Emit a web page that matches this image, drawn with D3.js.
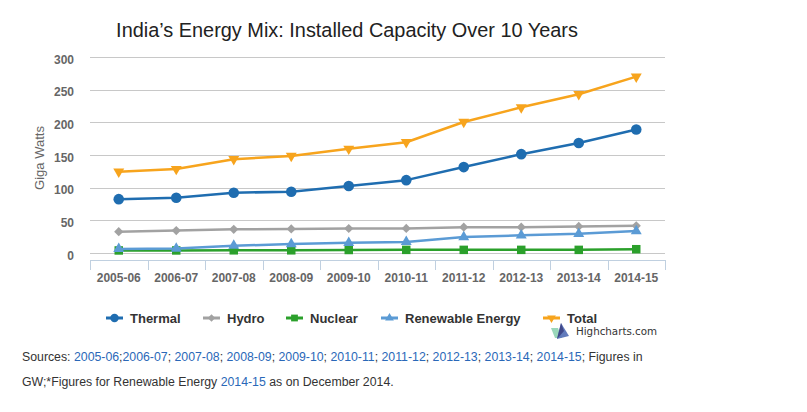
<!DOCTYPE html>
<html>
<head>
<meta charset="utf-8">
<script src="https://cdn.jsdelivr.net/npm/d3@7"></script>
<style>
  html, body { margin: 0; padding: 0; background: #fff; }
  svg { display: block; font-family: "Liberation Sans", Arial, sans-serif; }
</style>
</head>
<body>
<svg id="chart" width="807" height="412"></svg>
<script>
const categories = ["2005-06","2006-07","2007-08","2008-09","2009-10","2010-11","2011-12","2012-13","2013-14","2014-15"];
const thermal   = [82.4, 84.5, 92.3, 93.7, 102.5, 111.5, 131.5, 151.3, 168.3, 189.0];
const hydro     = [32.6, 34.3, 36.3, 36.9, 37.5, 37.6, 39.5, 39.6, 40.6, 41.6];
const nuclear   = [3.9, 3.9, 4.1, 4.1, 4.6, 4.8, 4.8, 4.8, 4.8, 5.8];
const renewable = [6.2, 6.9, 11.2, 13.6, 15.7, 17.0, 24.4, 27.0, 29.3, 33.6];
const total     = [124.5, 128.5, 143.5, 148.5, 159.5, 169.5, 200.5, 223.0, 243.0, 270.0];
const yTicks = [0, 50, 100, 150, 200, 250, 300];
const seriesNames = ["Thermal","Hydro","Nuclear","Renewable Energy","Total"];
const seriesColors = ["#1f6db0","#a2a2a2","#2ba02b","#5b9bd5","#f7a41d"];
const seriesSymbols = ["circle","diamond","square","triangle","triangle-down"];

const series = [thermal, hydro, nuclear, renewable, total].map((v, i) => ({
  name: seriesNames[i], values: v, color: seriesColors[i], symbol: seriesSymbols[i]
}));

const svg = d3.select("#chart");
const plot = {left: 90, right: 665, top: 57, bottom: 253};

const x = d3.scaleBand().domain(categories).range([plot.left, plot.right]);
const y = d3.scaleLinear().domain([0, 300]).range([plot.bottom, plot.top]);

// Title
svg.append("text").attr("x", 347).attr("y", 37).attr("text-anchor", "middle")
  .attr("font-size", 19.9).attr("fill", "#222")
  .text("India\u2019s Energy Mix: Installed Capacity Over 10 Years");

// Gridlines
svg.append("g").selectAll("line").data(yTicks).join("line")
  .attr("x1", plot.left).attr("x2", plot.right)
  .attr("y1", d => Math.round(y(d)) + 0.5).attr("y2", d => Math.round(y(d)) + 0.5)
  .attr("stroke", "#c8c8c8").attr("stroke-width", 1);

// Y axis labels
const yAxis = d3.axisLeft(y).tickValues(yTicks).tickSize(0).tickPadding(0);
const yg = svg.append("g").attr("transform", `translate(${plot.left - 16},2)`).call(yAxis);
yg.select(".domain").remove();
yg.selectAll("text").attr("font-size", 12).attr("font-weight", "bold").attr("fill", "#666")
  .attr("font-family", "Liberation Sans, Arial, sans-serif").attr("dy", "0.35em");

// Y title
svg.append("text").attr("transform", "translate(44,158) rotate(-90)")
  .attr("text-anchor", "middle").attr("font-size", 13).attr("fill", "#666")
  .text("Giga Watts");

// X axis
const axisY = 260;
const xg = svg.append("g").attr("transform", `translate(0,${axisY})`);
xg.append("line").attr("x1", plot.left).attr("x2", plot.right + 1)
  .attr("y1", 0.5).attr("y2", 0.5).attr("stroke", "#c0d0e0");
const bounds = categories.map(c => x(c)).concat([x.range()[1]]);
xg.selectAll("line.tick").data(bounds).join("line").attr("class", "tick")
  .attr("x1", d => Math.round(d) + 0.5).attr("x2", d => Math.round(d) + 0.5)
  .attr("y1", 0).attr("y2", 10).attr("stroke", "#c0d0e0");
xg.selectAll("text").data(categories).join("text")
  .attr("x", d => x(d) + x.bandwidth() / 2).attr("y", 22)
  .attr("text-anchor", "middle").attr("font-size", 12).attr("font-weight", "bold")
  .attr("fill", "#666").text(d => d);

// Symbols
function symbolPath(sym, k) {
  if (sym === "diamond") {
    const r = 4.6 * k;
    return `M0,${-r}L${r},0L0,${r}L${-r},0Z`;
  }
  const map = {
    "circle": [d3.symbolCircle, 88],
    "square": [d3.symbolSquare, 72],
    "triangle": [d3.symbolTriangle, 52],
    "triangle-down": [d3.symbolTriangle, 52]
  };
  return d3.symbol().type(map[sym][0]).size(map[sym][1] * k * k)();
}

// Lines
const line = d3.line().x((d, i) => x(categories[i]) + x.bandwidth() / 2).y(d => y(d));
series.forEach(s => {
  const g = svg.append("g");
  g.append("path").attr("d", line(s.values)).attr("fill", "none")
    .attr("stroke", s.color).attr("stroke-width", 2.5)
    .attr("stroke-linejoin", "round");
  g.selectAll("path.pt").data(s.values).join("path").attr("class", "pt")
    .attr("d", symbolPath(s.symbol, 1))
    .attr("transform", (d, i) => {
      const cx = x(categories[i]) + x.bandwidth() / 2;
      const cy = y(d);
      if (s.symbol === "triangle-down") return `translate(${cx},${cy}) scale(1,-1)`;
      return `translate(${cx},${cy})`;
    })
    .attr("fill", s.color);
});

// Legend
const legendX = [106, 203, 286, 381, 543];
const legendY = 318;
const lg = svg.append("g");
series.forEach((s, i) => {
  const g = lg.append("g").attr("transform", `translate(${legendX[i]},${legendY})`);
  g.append("line").attr("x1", 0).attr("x2", 17).attr("y1", 0).attr("y2", 0)
    .attr("stroke", s.color).attr("stroke-width", 3);
  g.append("path").attr("d", symbolPath(s.symbol, 0.8))
    .attr("transform", s.symbol === "triangle-down" ? "translate(8.5,0) scale(1,-1)" : "translate(8.5,0)")
    .attr("fill", s.color);
  g.append("text").attr("x", 24).attr("y", 0).attr("dy", "0.35em")
    .attr("font-size", 13).attr("font-weight", "bold").attr("fill", "#333").text(s.name);
});

// Highcharts credit
const cr = svg.append("g").attr("transform", "translate(551,323)");
cr.append("polygon").attr("points", "0,5 7,5 11,15 4,15").attr("fill", "#8fd3b3").attr("opacity", 0.9);
cr.append("polygon").attr("points", "10,0 18,13 6,16").attr("fill", "#5a74b8").attr("opacity", 0.95);
cr.append("polygon").attr("points", "10,0 13,8 6,16").attr("fill", "#3d4484").attr("opacity", 0.9);
svg.append("text").attr("x", 576).attr("y", 335).attr("font-size", 10.3)
  .attr("font-family", "DejaVu Sans, Verdana, sans-serif").attr("fill", "#333").text("Highcharts.com");

// Footer sources
const links = ["2005-06","2006-07","2007-08","2008-09","2009-10","2010-11","2011-12","2012-13","2013-14","2014-15"];
const ft = svg.append("text").attr("x", 22).attr("y", 361).attr("font-size", 12.3).attr("fill", "#333");
ft.append("tspan").text("Sources: ");
links.forEach((l, i) => {
  ft.append("tspan").attr("fill", "#2a68b8").text(l);
  ft.append("tspan").text(i === 0 ? ";" : "; ");
});
ft.append("tspan").text("Figures in");
const ft2 = svg.append("text").attr("x", 22).attr("y", 386).attr("font-size", 12.3).attr("fill", "#333");
ft2.append("tspan").text("GW;*Figures for Renewable Energy ");
ft2.append("tspan").attr("fill", "#2a68b8").text("2014-15");
ft2.append("tspan").text(" as on December 2014.");
</script>
</body>
</html>
